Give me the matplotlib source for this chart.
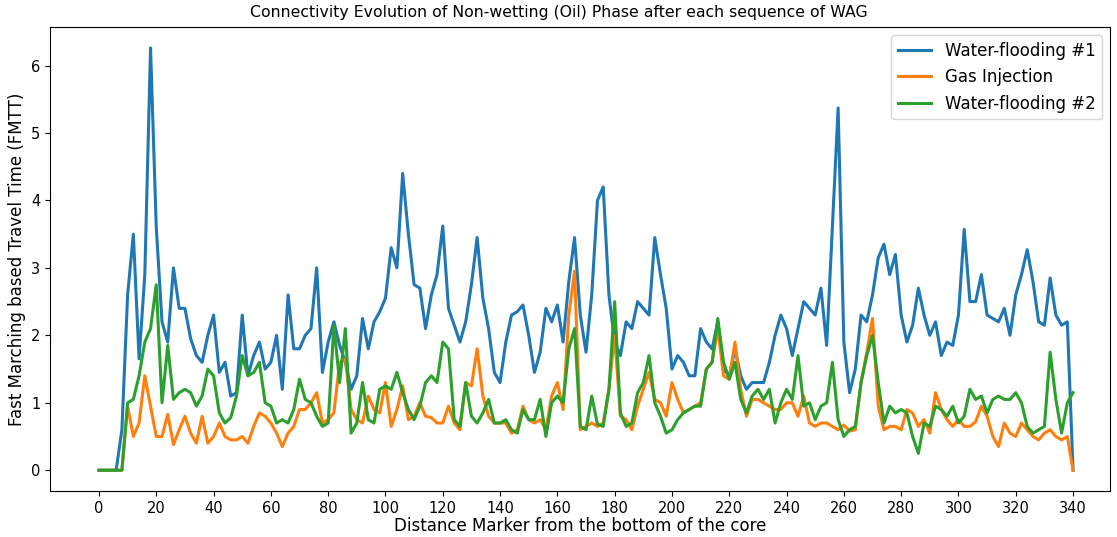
import numpy as np
import matplotlib
matplotlib.use("Agg")
import matplotlib.pyplot as plt

# distance markers along the core (every second slice)
distance = np.arange(0, 341, 2)

# FMTT values for the non-wetting phase after each flooding step
water_flood_1 = [
    0, 0, 0, 0, 0.6, 2.6, 3.5, 1.65, 2.9, 6.26,
    3.6, 2.2, 1.9, 3.0, 2.4, 2.4, 1.95, 1.7, 1.6, 2.0,
    2.3, 1.45, 1.6, 1.1, 1.15, 2.3, 1.4, 1.7, 1.9, 1.5,
    1.6, 2.0, 1.2, 2.6, 1.8, 1.8, 2.0, 2.1, 3.0, 1.45,
    1.9, 2.2, 1.85, 1.6, 1.2, 1.4, 2.25, 1.8, 2.2, 2.35,
    2.55, 3.3, 3.0, 4.4, 3.5, 2.75, 2.7, 2.1, 2.6, 2.9,
    3.62, 2.4, 2.15, 1.9, 2.2, 2.75, 3.45, 2.55, 2.1, 1.45,
    1.3, 1.9, 2.3, 2.35, 2.45, 2.0, 1.45, 1.75, 2.4, 2.2,
    2.45, 1.9, 2.8, 3.45, 2.3, 1.75, 2.6, 4.0, 4.2, 2.6,
    1.9, 1.7, 2.2, 2.1, 2.5, 2.4, 2.3, 3.45, 2.9, 2.4,
    1.5, 1.7, 1.6, 1.4, 1.4, 2.1, 1.9, 1.8, 2.2, 1.5,
    1.4, 1.8, 1.4, 1.2, 1.3, 1.3, 1.3, 1.6, 2.0, 2.3,
    2.1, 1.7, 2.1, 2.5, 2.4, 2.3, 2.7, 1.85, 3.6, 5.37,
    1.9, 1.15, 1.5, 2.3, 2.2, 2.6, 3.15, 3.35, 2.9, 3.2,
    2.3, 1.9, 2.15, 2.7, 2.3, 2.0, 2.2, 1.7, 1.9, 1.85,
    2.3, 3.57, 2.5, 2.5, 2.9, 2.3, 2.25, 2.2, 2.4, 2.0,
    2.6, 2.9, 3.27, 2.8, 2.2, 2.15, 2.85, 2.3, 2.15, 2.2,
    0,
]

gas_injection = [
    0, 0, 0, 0, 0, 0.95, 0.5, 0.7, 1.4, 0.95,
    0.5, 0.5, 0.83, 0.38, 0.6, 0.8, 0.55, 0.4, 0.8, 0.4,
    0.5, 0.7, 0.5, 0.45, 0.45, 0.5, 0.4, 0.65, 0.85, 0.8,
    0.7, 0.55, 0.35, 0.55, 0.65, 0.9, 0.9, 1.0, 1.15, 0.7,
    0.75, 0.85, 1.6, 1.65, 0.9, 0.75, 0.7, 1.1, 0.9, 0.85,
    1.3, 0.65, 0.9, 1.25, 0.75, 0.8, 1.0, 0.8, 0.78, 0.7,
    0.7, 0.95, 0.7, 0.6, 1.3, 1.25, 1.8, 1.1, 0.8, 0.7,
    0.7, 0.7, 0.55, 0.6, 0.95, 0.75, 0.7, 0.75, 0.6, 1.1,
    1.3, 0.9, 2.3, 2.95, 0.6, 0.65, 0.7, 0.65, 0.7, 1.2,
    2.0, 0.8, 0.75, 0.6, 0.95, 1.2, 1.45, 1.05, 1.0, 0.8,
    1.3, 1.05, 0.85, 0.9, 0.95, 1.0, 1.5, 1.6, 2.1, 1.4,
    1.35, 1.9, 1.2, 0.8, 1.05, 1.05, 1.0, 0.95, 0.9, 0.9,
    1.0, 1.0, 0.8, 1.1, 0.7, 0.65, 0.7, 0.7, 0.65, 0.6,
    0.67, 0.58, 0.6, 1.3, 1.75, 2.25, 0.95, 0.6, 0.65, 0.65,
    0.6, 0.9, 0.85, 0.65, 0.75, 0.55, 1.15, 0.9, 0.75, 0.65,
    0.75, 0.65, 0.65, 0.72, 0.95, 0.8, 0.5, 0.35, 0.7, 0.55,
    0.5, 0.7, 0.6, 0.5, 0.45, 0.55, 0.6, 0.5, 0.45, 0.5,
    0,
]

water_flood_2 = [
    0, 0, 0, 0, 0, 1.0, 1.05, 1.4, 1.9, 2.1,
    2.75, 1.0, 1.85, 1.05, 1.15, 1.2, 1.15, 0.95, 1.1, 1.5,
    1.4, 0.85, 0.7, 0.78, 1.1, 1.7, 1.4, 1.45, 1.6, 1.0,
    0.95, 0.7, 0.75, 0.7, 0.9, 1.35, 1.05, 1.0, 0.8, 0.65,
    0.7, 2.15, 1.3, 2.1, 0.55, 0.7, 1.3, 0.75, 0.7, 1.2,
    1.25, 1.2, 1.45, 1.15, 0.9, 0.75, 0.95, 1.3, 1.4, 1.3,
    1.9, 1.8, 0.75, 0.65, 1.3, 0.8, 0.7, 0.85, 1.05, 0.7,
    0.7, 0.75, 0.6, 0.55, 0.9, 0.75, 0.75, 1.05, 0.5, 1.0,
    1.1, 1.0, 1.8, 2.1, 0.65, 0.6, 1.1, 0.68, 0.65, 1.2,
    2.5, 0.85, 0.65, 0.7, 1.15, 1.3, 1.7, 1.0, 0.8, 0.55,
    0.6, 0.75, 0.85, 0.9, 0.95, 0.95, 1.5, 1.6, 2.25, 1.6,
    1.35, 1.6, 1.05, 0.85, 1.1, 1.2, 1.05, 1.2, 0.7, 1.0,
    1.2, 1.05, 1.7, 0.95, 1.0, 0.75, 0.95, 1.0, 1.6, 0.75,
    0.5, 0.6, 0.65, 1.3, 1.7, 2.0, 1.3, 0.7, 0.95, 0.85,
    0.9, 0.85, 0.5, 0.25, 0.7, 0.65, 0.95, 0.9, 0.8, 0.95,
    0.7, 0.8, 1.2, 1.05, 1.1, 0.85, 1.05, 1.1, 1.05, 1.05,
    1.15, 1.0, 0.65, 0.55, 0.6, 0.65, 1.75, 1.05, 0.55, 1.0,
    1.15,
]

fig, ax = plt.subplots(figsize=(11.17, 5.37), dpi=100)
fig.subplots_adjust(left=0.045, right=0.994, top=0.95, bottom=0.085)

ax.plot(distance, water_flood_1, color="#1f77b4", linewidth=2.2, label="Water-flooding #1")
ax.plot(distance, gas_injection, color="#ff7f0e", linewidth=2.2, label="Gas Injection")
ax.plot(distance, water_flood_2, color="#2ca02c", linewidth=2.2, label="Water-flooding #2")

ax.set_xlim(-17, 353)
ax.set_xticks(np.arange(0, 341, 20))
ax.tick_params(labelsize=10.5)
fig.suptitle("Connectivity Evolution of Non-wetting (Oil) Phase after each sequence of WAG",
             x=0.5, y=0.99, va="top", fontsize=11.3)
ax.set_xlabel("Distance Marker from the bottom of the core", fontsize=12, labelpad=1)
ax.set_ylabel("Fast Marching based Travel Time (FMTT)", fontsize=12)
ax.legend(loc="upper right", fontsize=12)

fig.savefig("out.png", dpi=100)
